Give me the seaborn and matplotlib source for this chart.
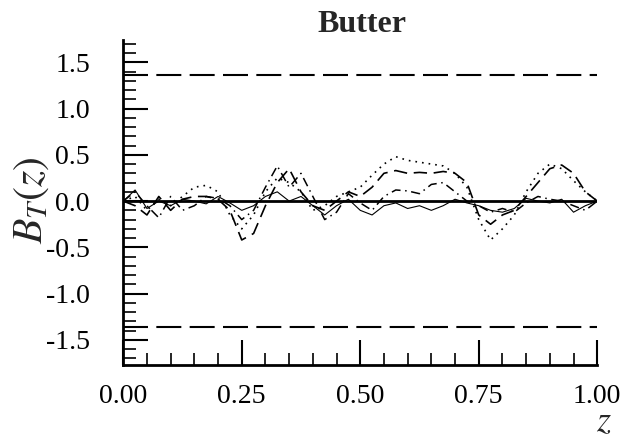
import numpy as np
import pandas as pd
import matplotlib
matplotlib.use("Agg")
import matplotlib.pyplot as plt
import seaborn as sns
from matplotlib.ticker import MultipleLocator

z = [0.000, 0.025, 0.050, 0.075, 0.100, 0.125, 0.150, 0.175, 0.200, 0.225,
     0.250, 0.275, 0.300, 0.325, 0.350, 0.375, 0.400, 0.425, 0.450, 0.475,
     0.500, 0.525, 0.550, 0.575, 0.600, 0.625, 0.650, 0.675, 0.700, 0.725,
     0.750, 0.775, 0.800, 0.825, 0.850, 0.875, 0.900, 0.925, 0.950, 0.975, 1.000]

dotted = [0.0, 0.05, -0.10, 0.02, -0.05, 0.05, 0.15, 0.17, 0.10, -0.15,
          -0.30, -0.15, 0.10, 0.25, 0.20, 0.10, -0.10, -0.05, 0.05, 0.10,
          0.15, 0.28, 0.40, 0.48, 0.44, 0.42, 0.40, 0.38, 0.30, 0.15,
          -0.20, -0.42, -0.30, -0.15, 0.10, 0.30, 0.40, 0.35, 0.22, 0.10, 0.0]

dashed = [0.0, -0.05, -0.15, 0.05, -0.10, 0.02, 0.05, 0.05, 0.02, -0.10,
          -0.42, -0.35, -0.05, 0.20, 0.35, 0.10, -0.05, -0.10, 0.00, 0.10,
          0.05, 0.15, 0.30, 0.33, 0.30, 0.31, 0.30, 0.32, 0.30, 0.20,
          -0.15, -0.25, -0.15, -0.10, 0.05, 0.20, 0.35, 0.39, 0.30, 0.10, 0.0]

dashdot = [0.0, 0.10, -0.05, -0.18, 0.05, -0.10, -0.05, 0.05, 0.03, -0.05,
           -0.20, -0.10, 0.15, 0.38, 0.15, 0.30, 0.05, -0.20, -0.12, 0.08,
           -0.02, -0.10, 0.05, 0.12, 0.11, 0.08, 0.18, 0.20, 0.10, 0.00,
           -0.05, -0.12, -0.08, -0.12, -0.02, 0.05, 0.02, 0.00, -0.05, -0.10, 0.0]

solid = [0.0, 0.12, -0.08, 0.00, -0.05, 0.02, 0.00, -0.03, 0.05, -0.02,
         -0.10, -0.05, 0.05, 0.10, 0.00, 0.05, -0.05, -0.15, -0.05, 0.02,
         -0.10, -0.15, -0.05, -0.02, -0.08, -0.05, -0.10, -0.05, 0.02, -0.02,
         -0.05, -0.10, -0.12, -0.08, 0.03, 0.00, -0.02, 0.02, -0.12, -0.05, 0.0]

crit = 1.36
title = "Butter"
xticks = [0.00, 0.25, 0.50, 0.75, 1.00]
xticklabels = ["0.00", "0.25", "0.50", "0.75", "1.00"]
yticks = [-1.5, -1.0, -0.5, 0.0, 0.5, 1.0, 1.5]
yticklabels = ["-1.5", "-1.0", "-0.5", "0.0", "0.5", "1.0", "1.5"]

sns.set_theme(style="ticks")
plt.rcParams["font.family"] = ["Liberation Serif", "DejaVu Serif"]
plt.rcParams["mathtext.fontset"] = "stix"

fig = plt.figure(figsize=(6.32, 4.45), dpi=100)
ax = fig.add_axes([0.195, 0.18, 0.75, 0.73])

df = pd.DataFrame({"z": z, "dotted": dotted, "dashed": dashed,
                   "dashdot": dashdot, "solid": solid})
styles = {"dotted": ((0, (1, 3)), 1.2), "dashed": ((0, (8, 4)), 1.2),
          "dashdot": ((0, (6, 3, 1, 3)), 1.1), "solid": ("-", 0.8)}
for col, (ls, lw) in styles.items():
    sns.lineplot(data=df, x="z", y=col, ax=ax, color="black",
                 linewidth=lw, linestyle=ls)

ax.axhline(0, color="black", linewidth=2)
ax.axhline(crit, color="black", linewidth=1.5, linestyle=(0, (12, 4)))
ax.axhline(-crit, color="black", linewidth=1.5, linestyle=(0, (12, 4)))

ax.set_xlim(0, 1.0)
ax.set_ylim(-1.77, 1.74)
ax.set_xticks(xticks)
ax.set_xticklabels(xticklabels)
ax.set_yticks(yticks)
ax.set_yticklabels(yticklabels)
ax.xaxis.set_minor_locator(MultipleLocator(0.05))
ax.yaxis.set_minor_locator(MultipleLocator(0.1))

ax.tick_params(axis="both", which="major", direction="in", length=18,
               width=1.5, labelsize=20, colors="black")
ax.tick_params(axis="both", which="minor", direction="in", length=9,
               width=1.2, colors="black")
ax.tick_params(axis="x", which="major", pad=14)
ax.tick_params(axis="y", which="major", pad=24)
for s in ["top", "right"]:
    ax.spines[s].set_visible(False)
for s in ["left", "bottom"]:
    ax.spines[s].set_linewidth(2)
    ax.spines[s].set_color("black")

ax.set_xlabel("")
ax.set_ylabel("")
fig.text(0.573, 0.945, title, ha="center", va="center", fontsize=23,
         fontweight="bold")
fig.text(0.05, 0.55, r"$B_T(z)$", ha="center", va="center", fontsize=30,
         rotation=90)
fig.text(0.955, 0.05, r"$z$", ha="center", va="center", fontsize=26)

fig.savefig("out.png", dpi=100)
